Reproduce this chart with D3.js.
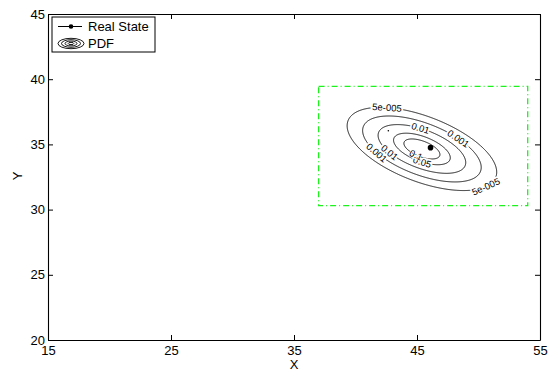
<!DOCTYPE html>
<html>
<head>
<meta charset="utf-8">
<script src="https://cdn.jsdelivr.net/npm/d3@7"></script>
<style>
  body { margin: 0; background: #fff; }
  svg { font-family: "Liberation Sans", Arial, sans-serif; }
</style>
</head>
<body>
<div class="plot"></div>
<script>
// chart values
const xTicks = [15, 25, 35, 45, 55];
const yTicks = [20, 25, 30, 35, 40, 45];
const realState = [[46.1, 34.75]];
const strayPoint = [[42.67, 36.05]];
const pdfMean = [45.4, 34.65];
const pdfCov = [[2.29, -0.67], [-0.67, 0.63]];
const pdfLevels = [5e-5, 0.001, 0.01, 0.05, 0.1];
const levelNames = ["5e-005", "0.001", "0.01", "0.05", "0.1"];
const boxX = [37, 54];
const boxY = [30.3, 39.45];
// where the inline contour labels sit (level index, x, y)
const labelSpots = [
    [0, 42.54, 37.58], [0, 50.53, 31.89],
    [1, 48.23, 35.28], [1, 41.72, 34.36],
    [2, 45.24, 36.10], [2, 42.94, 34.57],
    [3, 45.45, 33.75], [4, 44.95, 34.25]
];

const width = 548,
    height = 372,
    margin = { top: 14, right: 8, bottom: 32, left: 48 },
    innerWidth = width - margin.left - margin.right,
    innerHeight = height - margin.top - margin.bottom;

const svg = d3.select(".plot").append("svg")
    .attr("width", width)
    .attr("height", height)
    .append("g")
    .attr("transform", "translate(" + margin.left + "," + margin.top + ")");

const xScale = d3.scaleLinear().domain([15, 55]).range([0, innerWidth]);
const yScale = d3.scaleLinear().domain([20, 45]).range([innerHeight, 0]);

// axes, ticks pointing inward on all four sides
function styleAxis(g) {
    g.selectAll("path.domain").attr("stroke", "#000").attr("stroke-width", 1.1);
    g.selectAll(".tick line").attr("stroke", "#000");
    g.selectAll("text").attr("font-size", 13).attr("fill", "#000")
        .attr("font-family", "Liberation Sans, Arial, sans-serif");
}
svg.append("g")
    .attr("transform", "translate(0," + innerHeight + ")")
    .call(d3.axisBottom(xScale).tickValues(xTicks).tickSizeInner(-5).tickSizeOuter(0).tickPadding(6))
    .call(styleAxis);
svg.append("g")
    .call(d3.axisTop(xScale).tickValues(xTicks).tickSizeInner(-5).tickSizeOuter(0).tickFormat(""))
    .call(styleAxis);
svg.append("g")
    .call(d3.axisLeft(yScale).tickValues(yTicks).tickSizeInner(-5).tickSizeOuter(0).tickPadding(3))
    .call(styleAxis);
svg.append("g")
    .attr("transform", "translate(" + innerWidth + ",0)")
    .call(d3.axisRight(yScale).tickValues(yTicks).tickSizeInner(-5).tickSizeOuter(0).tickFormat(""))
    .call(styleAxis);

// axis names
svg.append("text")
    .attr("x", innerWidth / 2)
    .attr("y", height - margin.top - 3)
    .attr("text-anchor", "middle")
    .attr("font-size", 13)
    .text("X");
svg.append("text")
    .attr("transform", "translate(" + (17 - margin.left) + "," + (176 - margin.top) + ") rotate(-90)")
    .attr("text-anchor", "middle")
    .attr("dy", "0.35em")
    .attr("font-size", 13)
    .text("Y");

// green dash-dot search box
svg.append("rect")
    .attr("x", xScale(boxX[0]))
    .attr("y", yScale(boxY[1]))
    .attr("width", xScale(boxX[1]) - xScale(boxX[0]))
    .attr("height", yScale(boxY[0]) - yScale(boxY[1]))
    .attr("fill", "none")
    .attr("stroke", "#1cf21c")
    .attr("stroke-width", 1.3)
    .attr("stroke-dasharray", "6,3,1,3");

// gaussian pdf sampled on a grid, then contoured
const inv = (function() {
    const a = pdfCov[0][0], b = pdfCov[0][1], d = pdfCov[1][1];
    const det = a * d - b * b;
    return { a: d / det, b: -b / det, d: a / det, norm: 1 / (2 * Math.PI * Math.sqrt(det)) };
})();
const gx0 = 36, gx1 = 55, gy0 = 29, gy1 = 41, step = 0.04;
const nx = Math.round((gx1 - gx0) / step) + 1,
    ny = Math.round((gy1 - gy0) / step) + 1;
const grid = new Array(nx * ny);
for (let j = 0; j < ny; j++) {
    for (let i = 0; i < nx; i++) {
        const dx = gx0 + i * step - pdfMean[0],
            dy = gy1 - j * step - pdfMean[1];
        const q = inv.a * dx * dx + 2 * inv.b * dx * dy + inv.d * dy * dy;
        grid[j * nx + i] = inv.norm * Math.exp(-q / 2);
    }
}
const contours = d3.contours().size([nx, ny]).thresholds(pdfLevels)(grid);

const toPx = d3.geoTransform({
    point: function(x, y) {
        this.stream.point(xScale(gx0 + (x - 0.5) * step), yScale(gy1 - (y - 0.5) * step));
    }
});
const path = d3.geoPath(toPx);

svg.append("g").selectAll("path")
    .data(contours)
    .enter().append("path")
    .attr("d", path)
    .attr("fill", "none")
    .attr("stroke", "#000")
    .attr("stroke-width", 0.9);

// inline labels, rotated along the contour
function ringsPx(c) {
    const rings = [];
    c.coordinates.forEach(function(poly) {
        poly.forEach(function(ring) {
            rings.push(ring.map(function(p) {
                return [xScale(gx0 + (p[0] - 0.5) * step), yScale(gy1 - (p[1] - 0.5) * step)];
            }));
        });
    });
    return rings;
}
labelSpots.forEach(function(s) {
    const c = contours.find(function(k) { return k.value === pdfLevels[s[0]]; });
    const px = xScale(s[1]), py = yScale(s[2]);
    let best = null, bd = Infinity;
    ringsPx(c).forEach(function(r) {
        r.forEach(function(p, k) {
            const d = (p[0] - px) * (p[0] - px) + (p[1] - py) * (p[1] - py);
            if (d < bd) { bd = d; best = { r: r, k: k }; }
        });
    });
    if (!best) return;
    const r = best.r, n = r.length;
    const p0 = r[(best.k - 4 + n) % n], p1 = r[(best.k + 4) % n], p = r[best.k];
    let ang = Math.atan2(p1[1] - p0[1], p1[0] - p0[0]) * 180 / Math.PI;
    if (ang > 90) ang -= 180;
    if (ang < -90) ang += 180;
    svg.append("text")
        .attr("transform", "translate(" + p[0] + "," + p[1] + ") rotate(" + ang + ")")
        .attr("text-anchor", "middle")
        .attr("dy", "0.35em")
        .attr("font-size", 9.5)
        .attr("fill", "#000")
        .attr("stroke", "#fff")
        .attr("stroke-width", s[0] === 4 ? 1.5 : 3.5)
        .attr("paint-order", "stroke")
        .text(levelNames[s[0]]);
});

// real state marker
svg.append("g").selectAll("circle")
    .data(realState)
    .enter().append("circle")
    .attr("cx", function(d) { return xScale(d[0]); })
    .attr("cy", function(d) { return yScale(d[1]); })
    .attr("r", 2.8)
    .attr("fill", "#000");
svg.append("g").selectAll("circle")
    .data(strayPoint)
    .enter().append("circle")
    .attr("cx", function(d) { return xScale(d[0]); })
    .attr("cy", function(d) { return yScale(d[1]); })
    .attr("r", 0.8)
    .attr("fill", "#000");

// legend
const lg = svg.append("g").attr("transform", "translate(" + (52 - margin.left) + "," + (17 - margin.top) + ")");
lg.append("rect")
    .attr("width", 103).attr("height", 35)
    .attr("fill", "#fff").attr("stroke", "#000").attr("stroke-width", 1);
lg.append("line")
    .attr("x1", 6).attr("x2", 30).attr("y1", 9.5).attr("y2", 9.5)
    .attr("stroke", "#000");
lg.append("circle").attr("cx", 19).attr("cy", 9.5).attr("r", 2.3).attr("fill", "#000");
lg.append("text").attr("x", 36).attr("y", 9.5).attr("dy", "0.35em")
    .attr("font-size", 13).text("Real State");
[[13, 5.2], [9.5, 3.8], [6, 2.4], [2.8, 1.1]].forEach(function(e) {
    lg.append("ellipse")
        .attr("cx", 19).attr("cy", 26.5)
        .attr("rx", e[0]).attr("ry", e[1])
        .attr("fill", "none").attr("stroke", "#000").attr("stroke-width", 0.9);
});
lg.append("text").attr("x", 36).attr("y", 26.5).attr("dy", "0.35em")
    .attr("font-size", 13).text("PDF");
</script>
</body>
</html>
